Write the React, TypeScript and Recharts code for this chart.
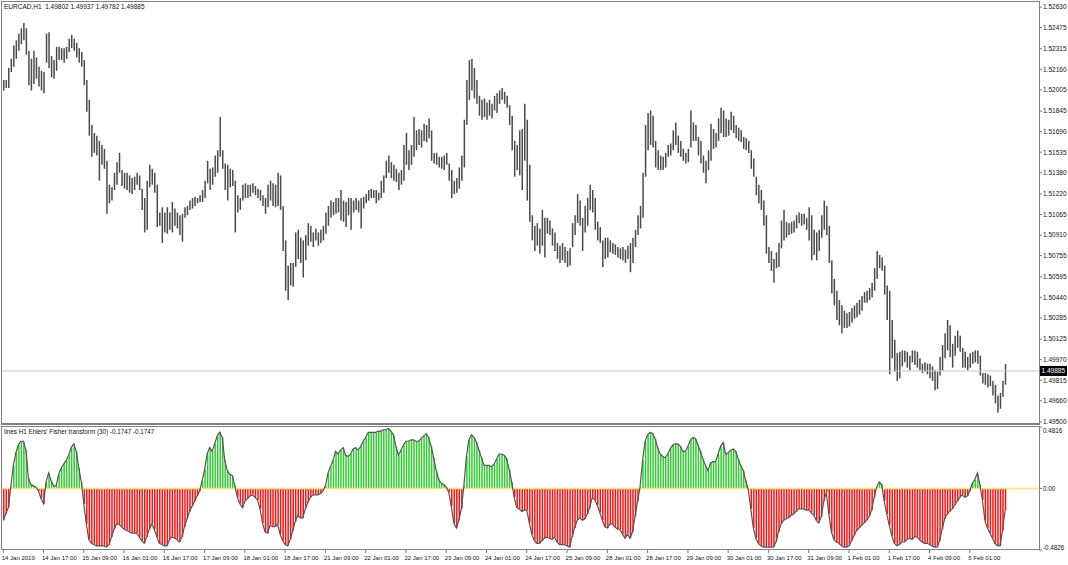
import React from 'react';
import { ComposedChart, Bar, Line, XAxis, YAxis, ReferenceLine, Cell } from 'recharts';

// ---- data (hourly bars of EURCAD H1, 14 Jan 2019 -> 5 Feb 2019) ----
const highs = [
  1.5208,1.5208,1.5217,1.5224,1.5234,1.5238,1.5243,1.5247,1.5251,1.5247,
  1.5230,1.5224,1.5230,1.5225,1.5218,1.5215,1.5214,1.5243,1.5244,1.5226,
  1.5223,1.5233,1.5233,1.5232,1.5232,1.5233,1.5239,1.5242,1.5239,1.5236,
  1.5232,1.5229,1.5223,1.5208,1.5193,1.5174,1.5168,1.5166,1.5162,1.5159,
  1.5156,1.5147,1.5129,1.5127,1.5138,1.5146,1.5153,1.5140,1.5138,1.5138,
  1.5136,1.5134,1.5135,1.5138,1.5136,1.5126,1.5119,1.5132,1.5144,1.5141,
  1.5138,1.5129,1.5108,1.5112,1.5108,1.5112,1.5108,1.5116,1.5111,1.5108,
  1.5106,1.5107,1.5112,1.5113,1.5117,1.5119,1.5120,1.5119,1.5121,1.5125,
  1.5132,1.5147,1.5141,1.5142,1.5151,1.5155,1.5180,1.5155,1.5145,1.5144,
  1.5141,1.5140,1.5132,1.5121,1.5119,1.5129,1.5130,1.5129,1.5129,1.5130,
  1.5128,1.5126,1.5125,1.5121,1.5119,1.5129,1.5132,1.5130,1.5129,1.5138,
  1.5136,1.5113,1.5087,1.5068,1.5070,1.5070,1.5093,1.5095,1.5089,1.5087,
  1.5091,1.5100,1.5098,1.5093,1.5096,1.5093,1.5095,1.5098,1.5108,1.5113,
  1.5117,1.5116,1.5119,1.5119,1.5125,1.5117,1.5116,1.5119,1.5119,1.5117,
  1.5119,1.5117,1.5119,1.5120,1.5122,1.5125,1.5126,1.5125,1.5125,1.5123,
  1.5132,1.5136,1.5147,1.5151,1.5146,1.5144,1.5141,1.5138,1.5140,1.5159,
  1.5168,1.5155,1.5159,1.5180,1.5170,1.5171,1.5170,1.5175,1.5174,1.5179,
  1.5170,1.5153,1.5153,1.5150,1.5150,1.5151,1.5153,1.5145,1.5140,1.5132,
  1.5134,1.5142,1.5151,1.5178,1.5208,1.5223,1.5224,1.5217,1.5208,1.5196,
  1.5193,1.5194,1.5191,1.5193,1.5190,1.5196,1.5198,1.5200,1.5202,1.5199,
  1.5196,1.5189,1.5181,1.5162,1.5159,1.5170,1.5171,1.5190,1.5178,1.5144,
  1.5106,1.5098,1.5100,1.5096,1.5110,1.5104,1.5104,1.5102,1.5096,1.5093,
  1.5085,1.5083,1.5085,1.5082,1.5079,1.5081,1.5100,1.5106,1.5122,1.5117,
  1.5104,1.5113,1.5119,1.5129,1.5125,1.5119,1.5101,1.5097,1.5087,1.5089,
  1.5089,1.5087,1.5085,1.5084,1.5082,1.5081,1.5082,1.5080,1.5083,1.5085,
  1.5089,1.5095,1.5106,1.5113,1.5138,1.5174,1.5183,1.5185,1.5181,1.5162,
  1.5155,1.5151,1.5150,1.5153,1.5159,1.5160,1.5170,1.5176,1.5166,1.5162,
  1.5156,1.5153,1.5156,1.5185,1.5176,1.5174,1.5165,1.5162,1.5151,1.5147,
  1.5155,1.5175,1.5171,1.5168,1.5179,1.5187,1.5185,1.5179,1.5178,1.5184,
  1.5181,1.5174,1.5172,1.5170,1.5165,1.5164,1.5162,1.5155,1.5149,1.5135,
  1.5129,1.5125,1.5117,1.5106,1.5082,1.5079,1.5073,1.5078,1.5085,1.5102,
  1.5110,1.5101,1.5100,1.5101,1.5102,1.5106,1.5108,1.5107,1.5107,1.5104,
  1.5112,1.5106,1.5095,1.5093,1.5095,1.5106,1.5117,1.5113,1.5098,1.5072,
  1.5058,1.5049,1.5042,1.5038,1.5034,1.5032,1.5033,1.5036,1.5038,1.5040,
  1.5042,1.5045,1.5048,1.5049,1.5051,1.5055,1.5066,1.5079,1.5076,1.5074,
  1.5068,1.5053,1.5049,1.5027,1.5012,1.5002,1.5003,1.5004,1.5004,1.5003,
  1.5000,1.5004,1.5004,1.5003,1.4998,1.4994,1.4995,1.4994,1.4994,1.4992,
  1.4989,1.4988,1.4999,1.5008,1.5017,1.5027,1.5023,1.5009,1.5015,1.5019,
  1.5015,1.5006,1.5003,1.4999,1.5002,1.5003,1.5004,1.5004,1.5000,1.4987,
  1.4987,1.4986,1.4985,1.4981,1.4978,1.4970,1.4972,1.4981,1.49937,
];

const lows = [
  1.5200,1.5202,1.5202,1.5214,1.5218,1.5224,1.5230,1.5235,1.5238,1.5227,
  1.5204,1.5200,1.5205,1.5209,1.5203,1.5200,1.5198,1.5221,1.5217,1.5210,
  1.5209,1.5215,1.5223,1.5223,1.5221,1.5224,1.5229,1.5232,1.5230,1.5225,
  1.5221,1.5218,1.5204,1.5184,1.5166,1.5150,1.5153,1.5151,1.5132,1.5144,
  1.5141,1.5107,1.5115,1.5117,1.5125,1.5129,1.5138,1.5128,1.5126,1.5125,
  1.5123,1.5122,1.5125,1.5129,1.5125,1.5110,1.5093,1.5095,1.5127,1.5129,
  1.5123,1.5097,1.5098,1.5085,1.5093,1.5092,1.5095,1.5093,1.5098,1.5096,
  1.5091,1.5086,1.5104,1.5106,1.5110,1.5111,1.5113,1.5115,1.5116,1.5116,
  1.5119,1.5130,1.5125,1.5129,1.5135,1.5138,1.5150,1.5141,1.5125,1.5117,
  1.5127,1.5128,1.5093,1.5108,1.5110,1.5117,1.5119,1.5119,1.5120,1.5123,
  1.5121,1.5119,1.5117,1.5113,1.5107,1.5112,1.5117,1.5113,1.5112,1.5113,
  1.5110,1.5079,1.5049,1.5042,1.5053,1.5052,1.5067,1.5073,1.5070,1.5059,
  1.5072,1.5083,1.5086,1.5082,1.5087,1.5083,1.5085,1.5087,1.5092,1.5098,
  1.5104,1.5106,1.5107,1.5108,1.5102,1.5101,1.5097,1.5106,1.5095,1.5108,
  1.5110,1.5108,1.5096,1.5111,1.5115,1.5117,1.5119,1.5119,1.5115,1.5117,
  1.5119,1.5123,1.5134,1.5138,1.5134,1.5132,1.5131,1.5125,1.5129,1.5132,
  1.5144,1.5140,1.5144,1.5150,1.5155,1.5159,1.5157,1.5162,1.5161,1.5164,
  1.5147,1.5145,1.5144,1.5142,1.5141,1.5140,1.5144,1.5132,1.5119,1.5122,
  1.5123,1.5126,1.5132,1.5142,1.5174,1.5193,1.5200,1.5194,1.5190,1.5181,
  1.5178,1.5180,1.5178,1.5181,1.5179,1.5185,1.5183,1.5190,1.5193,1.5190,
  1.5187,1.5174,1.5155,1.5135,1.5140,1.5136,1.5125,1.5147,1.5117,1.5101,
  1.5087,1.5079,1.5083,1.5077,1.5083,1.5074,1.5092,1.5091,1.5083,1.5079,
  1.5073,1.5070,1.5072,1.5070,1.5067,1.5068,1.5082,1.5091,1.5100,1.5098,
  1.5079,1.5093,1.5098,1.5110,1.5108,1.5095,1.5087,1.5085,1.5067,1.5073,
  1.5074,1.5078,1.5077,1.5076,1.5074,1.5073,1.5072,1.5070,1.5073,1.5063,
  1.5070,1.5082,1.5091,1.5096,1.5104,1.5135,1.5155,1.5159,1.5157,1.5142,
  1.5140,1.5140,1.5140,1.5142,1.5150,1.5151,1.5155,1.5159,1.5153,1.5150,
  1.5147,1.5145,1.5146,1.5157,1.5162,1.5162,1.5151,1.5145,1.5138,1.5130,
  1.5140,1.5147,1.5156,1.5157,1.5162,1.5168,1.5165,1.5165,1.5166,1.5170,
  1.5168,1.5164,1.5162,1.5161,1.5156,1.5155,1.5153,1.5141,1.5135,1.5121,
  1.5115,1.5110,1.5098,1.5077,1.5070,1.5064,1.5055,1.5066,1.5067,1.5081,
  1.5087,1.5089,1.5091,1.5092,1.5093,1.5096,1.5100,1.5098,1.5099,1.5095,
  1.5087,1.5072,1.5076,1.5072,1.5079,1.5089,1.5095,1.5091,1.5070,1.5047,
  1.5038,1.5027,1.5023,1.5017,1.5021,1.5021,1.5022,1.5025,1.5028,1.5029,
  1.5031,1.5034,1.5040,1.5040,1.5042,1.5044,1.5049,1.5058,1.5066,1.5064,
  1.5046,1.5027,1.4986,1.4998,1.4988,1.4981,1.4983,1.4992,1.4995,1.4991,
  1.4989,1.4995,1.4993,1.4991,1.4989,1.4987,1.4988,1.4986,1.4983,1.4981,
  1.4974,1.4975,1.4985,1.4989,1.4998,1.5004,1.4999,1.4991,1.5000,1.5006,
  1.5003,1.4991,1.4991,1.4989,1.4991,1.4994,1.4995,1.4994,1.4985,1.4979,
  1.4978,1.4976,1.4977,1.4970,1.4964,1.4957,1.4960,1.4969,1.49782,
];

const fisher = [
  -0.25,-0.20,-0.15,0.01,0.18,0.28,0.34,0.37,0.37,0.30,
  0.08,0.03,0.02,0.01,-0.02,-0.08,-0.12,0.05,0.12,0.06,
  0.02,0.02,0.11,0.16,0.19,0.22,0.26,0.32,0.35,0.29,
  0.16,0.05,-0.12,-0.28,-0.40,-0.43,-0.44,-0.45,-0.45,-0.45,
  -0.45,-0.46,-0.44,-0.38,-0.32,-0.28,-0.28,-0.30,-0.32,-0.33,
  -0.34,-0.35,-0.35,-0.35,-0.38,-0.41,-0.43,-0.38,-0.32,-0.28,
  -0.32,-0.38,-0.43,-0.44,-0.45,-0.45,-0.40,-0.38,-0.39,-0.40,
  -0.42,-0.38,-0.30,-0.24,-0.18,-0.14,-0.10,-0.06,-0.02,0.06,
  0.15,0.27,0.32,0.29,0.35,0.41,0.44,0.40,0.22,0.14,
  0.11,0.10,0.02,-0.07,-0.12,-0.15,-0.10,-0.08,-0.06,-0.05,
  -0.07,-0.09,-0.16,-0.27,-0.34,-0.35,-0.29,-0.30,-0.30,-0.28,
  -0.36,-0.41,-0.44,-0.45,-0.40,-0.33,-0.26,-0.21,-0.23,-0.23,
  -0.16,-0.11,-0.07,-0.05,-0.05,-0.05,-0.04,-0.02,0.02,0.12,
  0.17,0.22,0.29,0.27,0.30,0.32,0.26,0.25,0.27,0.31,
  0.32,0.30,0.33,0.37,0.40,0.44,0.44,0.44,0.44,0.45,
  0.45,0.46,0.46,0.47,0.45,0.42,0.33,0.26,0.30,0.34,
  0.37,0.37,0.38,0.38,0.37,0.37,0.39,0.41,0.43,0.40,
  0.33,0.24,0.14,0.07,0.04,0.03,0.01,-0.03,-0.14,-0.27,
  -0.31,-0.25,-0.16,0.02,0.25,0.38,0.42,0.40,0.36,0.30,
  0.24,0.18,0.18,0.18,0.17,0.19,0.23,0.27,0.27,0.26,
  0.23,0.15,0.05,-0.07,-0.15,-0.16,-0.18,-0.17,-0.17,-0.27,
  -0.36,-0.41,-0.43,-0.43,-0.41,-0.39,-0.38,-0.39,-0.40,-0.38,
  -0.42,-0.44,-0.44,-0.44,-0.45,-0.46,-0.38,-0.31,-0.25,-0.23,
  -0.25,-0.24,-0.20,-0.15,-0.07,-0.09,-0.13,-0.19,-0.25,-0.30,
  -0.31,-0.28,-0.28,-0.30,-0.32,-0.32,-0.36,-0.39,-0.36,-0.39,
  -0.34,-0.22,-0.10,0.01,0.22,0.37,0.42,0.44,0.43,0.39,
  0.32,0.27,0.25,0.24,0.27,0.31,0.34,0.35,0.35,0.33,
  0.29,0.29,0.33,0.38,0.40,0.39,0.34,0.29,0.23,0.18,
  0.14,0.20,0.21,0.21,0.27,0.33,0.36,0.27,0.28,0.30,
  0.31,0.29,0.23,0.18,0.14,0.06,-0.01,-0.16,-0.31,-0.39,
  -0.43,-0.45,-0.46,-0.46,-0.46,-0.46,-0.46,-0.42,-0.34,-0.28,
  -0.25,-0.24,-0.23,-0.21,-0.20,-0.18,-0.16,-0.16,-0.16,-0.17,
  -0.17,-0.19,-0.21,-0.25,-0.27,-0.22,-0.10,-0.03,-0.20,-0.34,
  -0.40,-0.42,-0.43,-0.45,-0.46,-0.46,-0.45,-0.41,-0.37,-0.33,
  -0.31,-0.29,-0.27,-0.25,-0.22,-0.17,-0.07,0.01,0.05,0.03,
  -0.10,-0.20,-0.29,-0.37,-0.43,-0.45,-0.44,-0.42,-0.42,-0.40,
  -0.39,-0.40,-0.38,-0.38,-0.40,-0.42,-0.43,-0.43,-0.44,-0.45,
  -0.46,-0.46,-0.41,-0.32,-0.24,-0.20,-0.18,-0.16,-0.13,-0.10,
  -0.07,-0.05,-0.07,-0.06,-0.02,0.04,0.07,0.12,0.03,-0.09,
  -0.25,-0.31,-0.35,-0.39,-0.43,-0.45,-0.45,-0.33,-0.1747,
];

const priceTicks = [
  1.5263, 1.52475, 1.52315, 1.5216, 1.52005, 1.51845, 1.5169, 1.51535, 1.5138, 1.5122,
  1.51065, 1.5091, 1.50755, 1.50595, 1.5044, 1.50285, 1.50125, 1.4997, 1.49815, 1.4966, 1.495,
];
const fisherTicks = [0.4816, 0, -0.4826];
const fisherTickLabels = ['0.4816', '0.00', '-0.4826'];
const dateLabels = [
  '14 Jan 2019', '14 Jan 17:00', '15 Jan 09:00', '16 Jan 01:00', '16 Jan 17:00', '17 Jan 09:00',
  '18 Jan 01:00', '18 Jan 17:00', '21 Jan 09:00', '22 Jan 01:00', '22 Jan 17:00', '23 Jan 09:00',
  '24 Jan 01:00', '24 Jan 17:00', '25 Jan 09:00', '28 Jan 01:00', '28 Jan 17:00', '29 Jan 09:00',
  '30 Jan 01:00', '30 Jan 17:00', '31 Jan 09:00', '1 Feb 01:00', '1 Feb 17:00', '4 Feb 09:00', '5 Feb 01:00',
];
const LABEL_STEP = 16;
const lastPrice = 1.49885;
const priceTitle = 'EURCAD,H1  1.49802 1.49937 1.49782 1.49885';
const indicatorTitle = "lines H1 Ehlers' Fisher transform (30) -0.1747 -0.1747";
const RIGHT_PAD_BARS = 13;

const FONT = '"Liberation Sans", Arial, sans-serif';

const total = highs.length + RIGHT_PAD_BARS;
const priceData = Array.from({ length: total }, (_, i) => ({
  i,
  hl: i < highs.length ? [lows[i], highs[i]] : null,
}));
const fisherData = Array.from({ length: total }, (_, i) => ({
  i,
  v: i < fisher.length ? fisher[i] : null,
}));
const dateTicks = dateLabels.map((_, k) => k * LABEL_STEP);

function PriceTag(props: any) {
  const vb = props.viewBox || {};
  const x = (vb.x || 0) + (vb.width || 0) + 1;
  const y = vb.y || 0;
  return (
    <g>
      <rect x={x} y={y - 5} width={27} height={10} fill="#000" />
      <text x={x + 1.5} y={y} dy="0.35em" fontSize={6.5} fill="#fff" fontFamily={FONT}>
        {lastPrice.toFixed(5)}
      </text>
    </g>
  );
}

function DateTick(props: any) {
  const { x, y, payload } = props;
  const label = dateLabels[Math.round(payload.value / LABEL_STEP)];
  return (
    <g>
      <line x1={x} x2={x} y1={y} y2={y + 3} stroke="#777" />
      <text x={x - 1.5} y={y + 10} fontSize={6} fill="#111" fontFamily={FONT}>
        {label}
      </text>
    </g>
  );
}

function FisherTick(props: any) {
  const { x, y, payload } = props;
  const k = fisherTicks.indexOf(payload.value);
  const dy = k === 0 ? 4 : k === 2 ? -2 : 0;
  return (
    <text x={x} y={y + dy} dy="0.35em" fontSize={6.3} fill="#111" fontFamily={FONT}>
      {fisherTickLabels[k]}
    </text>
  );
}

export default function App() {
  return (
    <div style={{ position: 'fixed', left: 0, top: 0, width: 1068, height: 565, background: '#fff', overflow: 'hidden' }}>
      <div style={{ position: 'absolute', left: 0, top: 0 }}>
        <ComposedChart width={1068} height={426} data={priceData} margin={{ top: 2, right: 0, bottom: 2, left: 2 }}>
          <XAxis dataKey="i" type="category" hide />
          <YAxis
            orientation="right"
            width={29}
            domain={[1.49485, 1.52668]}
            allowDataOverflow
            ticks={priceTicks}
            interval={0}
            tickFormatter={(v: number) => v.toFixed(5)}
            tick={{ fontSize: 6.5, fill: '#111', fontFamily: FONT }}
            tickSize={3}
            tickMargin={1}
            axisLine={false}
            tickLine={{ stroke: '#777' }}
          />
          <ReferenceLine y={lastPrice} stroke="#c4c4c4" strokeWidth={1} label={<PriceTag />} />
          <Bar dataKey="hl" barSize={1.5} fill="#4a4a4a" isAnimationActive={false} />
        </ComposedChart>
      </div>
      <div style={{ position: 'absolute', left: 0, top: 426 }}>
        <ComposedChart width={1068} height={139} data={fisherData} margin={{ top: 1, right: 0, bottom: 0, left: 2 }}>
          <XAxis
            dataKey="i"
            type="category"
            ticks={dateTicks}
            interval={0}
            tick={<DateTick />}
            tickSize={0}
            tickMargin={0}
            axisLine={false}
            tickLine={false}
            height={15}
          />
          <YAxis
            orientation="right"
            width={29}
            domain={[-0.4826, 0.4816]}
            allowDataOverflow
            ticks={fisherTicks}
            interval={0}
            tick={<FisherTick />}
            tickSize={3}
            tickMargin={1}
            axisLine={false}
            tickLine={{ stroke: '#777' }}
          />
          <Bar dataKey="v" barSize={1.5} isAnimationActive={false}>
            {fisherData.map((d) => (
              <Cell key={d.i} fill={(d.v ?? 0) >= 0 ? '#2ecc2e' : '#ff1010'} />
            ))}
          </Bar>
          <ReferenceLine y={0} stroke="#fbe27a" strokeWidth={1.5} />
          <Line dataKey="v" type="linear" stroke="#555" strokeWidth={1.2} dot={false} isAnimationActive={false} />
        </ComposedChart>
      </div>
      <div style={{ position: 'absolute', left: 1, top: 1, width: 1039, height: 424, border: '1px solid #808080', borderBottomWidth: 2, boxSizing: 'border-box', pointerEvents: 'none' }} />
      <div style={{ position: 'absolute', left: 1, top: 426, width: 1039, height: 124, border: '1px solid #808080', boxSizing: 'border-box', pointerEvents: 'none' }} />
      <div style={{ position: 'absolute', left: 4, top: 3, fontSize: 6.5, lineHeight: '8px', fontFamily: FONT, color: '#111', whiteSpace: 'pre' }}>
        {priceTitle}
      </div>
      <div style={{ position: 'absolute', left: 4, top: 428, fontSize: 6.3, lineHeight: '8px', fontFamily: FONT, color: '#111', whiteSpace: 'pre' }}>
        {indicatorTitle}
      </div>
    </div>
  );
}
